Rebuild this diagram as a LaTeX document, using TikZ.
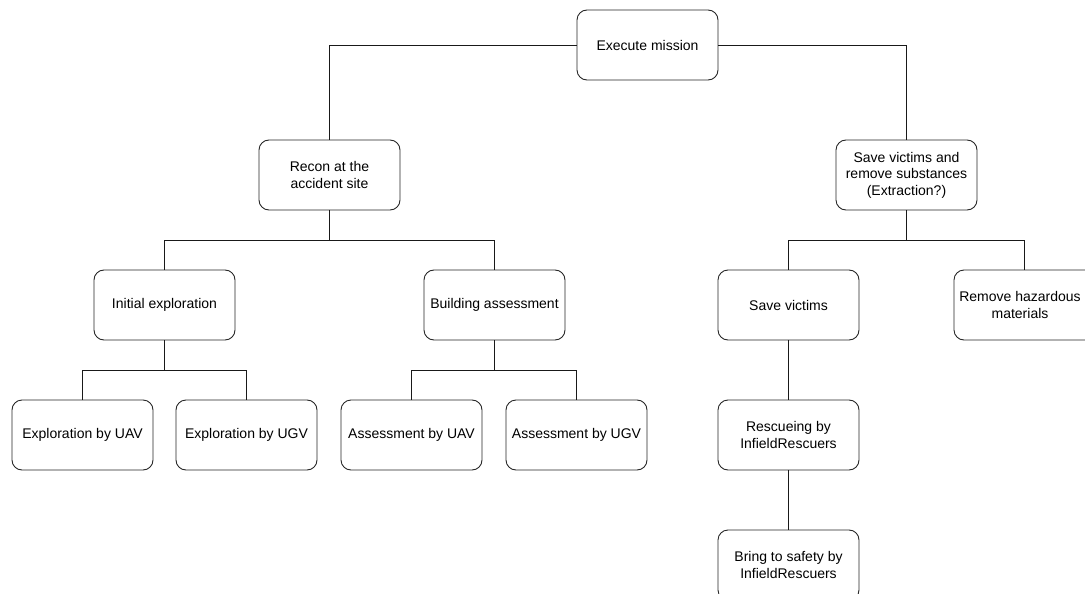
\documentclass[tikz,border=0pt]{standalone}
\usepackage{fontspec}
\setmainfont{Liberation Sans}
\begin{document}
\begin{tikzpicture}[x=1pt,y=-1pt,
  task/.style={draw=black!85, line width=0.9pt, rounded corners=10pt,
    minimum width=141pt, minimum height=70pt, align=center,
    font=\fontsize{14}{16.5}\selectfont, inner sep=2pt},
  txt/.style={align=center, font=\fontsize{14}{16.5}\selectfont, inner sep=0pt},
  link/.style={draw=black!90, line width=0.9pt}]
\useasboundingbox (0,0) rectangle (1085,594);

% task tree
\node[task] (exec)   at (647.5,45)  {Execute mission};
\node[task] (recon)  at (329.5,175) {Recon at the\\accident site};
\node[task] (save)   at (906.5,175) {Save victims and\\remove substances\\(Extraction?)};
\node[task] (init)   at (164.5,305) {Initial exploration};
\node[task] (build)  at (494.5,305) {Building assessment};
\node[task] (victim) at (788.5,305) {Save victims};
\node[task] (remove) at (1024.5,305) {};
\node[txt]  (removet) at (1020,305) {Remove hazardous\\materials};
\node[task] (expuav) at (82.5,435)  {Exploration by UAV};
\node[task] (expugv) at (246.5,435) {Exploration by UGV};
\node[task] (assuav) at (411.5,435) {Assessment by UAV};
\node[task] (assugv) at (576.5,435) {Assessment by UGV};
\node[task] (rescue) at (788.5,435) {Rescueing by\\InfieldRescuers};
\node[task] (bring)  at (788.5,565) {Bring to safety by\\InfieldRescuers};

% connectors
\draw[link] (exec.west) -| (recon.north);
\draw[link] (exec.east) -| (save.north);
\draw[link] (recon.south) -- ++(0,30) -| (init.north);
\draw[link] (recon.south) -- ++(0,30) -| (build.north);
\draw[link] (save.south) -- ++(0,30) -| (victim.north);
\draw[link] (save.south) -- ++(0,30) -| (remove.north);
\draw[link] (init.south) -- ++(0,30) -| (expuav.north);
\draw[link] (init.south) -- ++(0,30) -| (expugv.north);
\draw[link] (build.south) -- ++(0,30) -| (assuav.north);
\draw[link] (build.south) -- ++(0,30) -| (assugv.north);
\draw[link] (victim) -- (rescue);
\draw[link] (rescue) -- (bring);
\end{tikzpicture}
\end{document}
